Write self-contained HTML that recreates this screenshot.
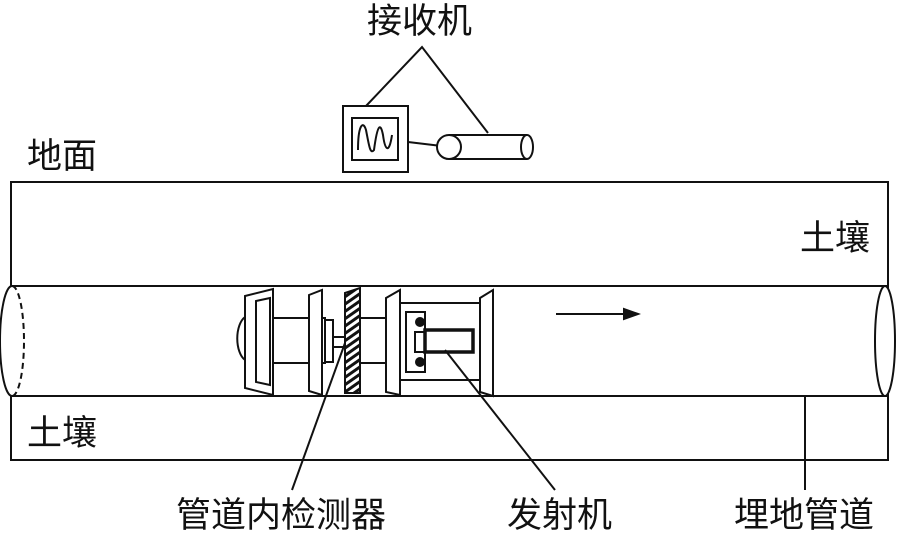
<!DOCTYPE html><html><head><meta charset="utf-8"><style>body{margin:0;background:#fff}svg{display:block}text{font-family:"Liberation Sans","Noto Sans CJK SC",sans-serif;font-size:35px;fill:#111}</style></head><body>
<svg width="904" height="533" viewBox="0 0 904 533" fill="none" stroke="#111" stroke-width="2">
<rect x="11" y="182" width="877" height="278"/>
<line x1="11" y1="286" x2="888" y2="286"/><line x1="11" y1="396" x2="888" y2="396"/>
<rect x="0" y="287" width="12" height="108" fill="#fff" stroke="none"/>
<path d="M12,286 A12,55 0 0 0 12,396" />
<path d="M12,286 A12,55 0 0 1 12,396" stroke-dasharray="6,4"/>
<ellipse cx="885" cy="341" rx="10" ry="55" fill="#fff"/>
<rect x="343" y="106" width="65" height="66"/><rect x="352" y="118" width="46" height="42"/>
<path d="M358,150 C358,125 363,120 366,130 C369,145 370,155 374,150 C378,120 381,125 383,135 C385,150 389,155 392,135"/>
<polyline points="366,106 422,47 488,133"/>
<line x1="408" y1="142" x2="450" y2="147"/>
<line x1="449" y1="135" x2="527" y2="135"/><line x1="449" y1="159" x2="527" y2="159"/>
<circle cx="449" cy="147" r="12" fill="#fff"/><ellipse cx="527" cy="147" rx="6" ry="12"/>
<path d="M245,317 A12,23 0 0 0 245,360"/>
<rect x="258" y="318" width="67" height="45"/>
<polygon points="245,296 273,289 273,395 245,388" fill="#fff"/>
<polygon points="256,301 270,298 270,385 256,382" fill="#fff"/>
<rect x="325" y="320" width="8" height="42"/>
<rect x="333" y="337" width="12" height="10"/>
<polygon points="309,295 322,290 322,395 309,391" fill="#fff"/>
<defs><pattern id="h" width="6" height="6" patternUnits="userSpaceOnUse" patternTransform="rotate(-35)"><line x1="0" y1="3" x2="6" y2="3" stroke-width="3"/></pattern></defs>
<polygon points="345,293 360,288 360,393 345,393" fill="url(#h)"/>
<rect x="360" y="318" width="27" height="45"/>
<polygon points="386,298 400,290 400,395 386,392" fill="#fff"/>
<rect x="400" y="303" width="80" height="77"/>
<rect x="406" y="312" width="19" height="60"/>
<circle cx="420" cy="322" r="4" fill="#111"/><circle cx="420" cy="362" r="4" fill="#111"/>
<rect x="415" y="332" width="10" height="20"/>
<rect x="425" y="330" width="48" height="22" stroke-width="3.5"/>
<polygon points="480,298 493,290 493,396 480,392" fill="#fff"/>
<line x1="345" y1="343" x2="292" y2="490"/>
<line x1="445" y1="350" x2="555" y2="490"/>
<line x1="805" y1="396" x2="805" y2="490"/>
<line x1="556" y1="314" x2="628" y2="314"/><polygon points="638,314 624,309 624,319" fill="#111"/>
<g stroke="none"><text x="367" y="33">接收机</text><text x="27" y="168">地面</text><text x="800" y="250">土壤</text><text x="27" y="445">土壤</text>
<text x="176" y="527">管道内检测器</text><text x="507" y="527">发射机</text><text x="734" y="527">埋地管道</text></g>
</svg></body></html>
